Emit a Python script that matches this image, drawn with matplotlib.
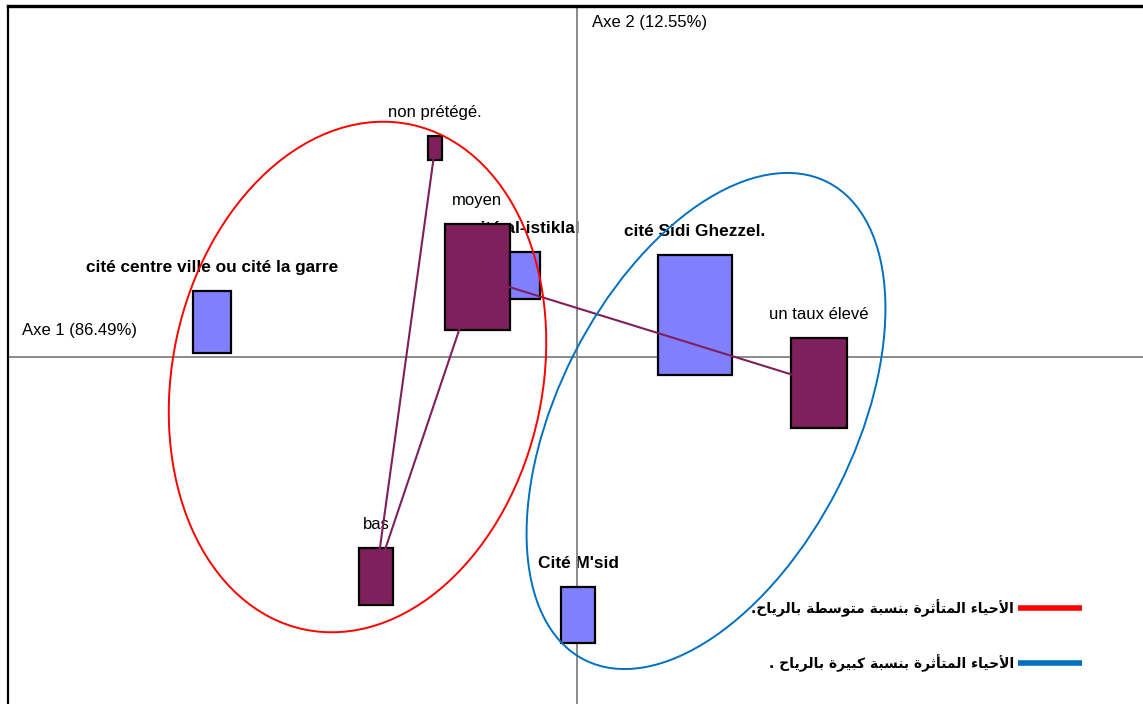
import matplotlib
matplotlib.use("Agg")
import matplotlib.pyplot as plt
from matplotlib.patches import Rectangle, Ellipse

# ---------------- data ----------------
names = ["non prétégé.", "moyen", "cité al-istiklal",
         "cité centre ville ou cité la garre", "cité Sidi Ghezzel.",
         "un taux élevé", "bas", "Cité M'sid"]
axis1 = [-1.42, -1.00, -0.52, -3.65, 1.18, 2.42, -2.01, 0.01]
axis2 = [2.09, 0.80, 0.815, 0.35, 0.42, -0.26, -2.195, -2.58]
box_w = [0.14, 0.65, 0.30, 0.38, 0.74, 0.56, 0.34, 0.34]
box_h = [0.23, 1.05, 0.47, 0.62, 1.20, 0.90, 0.57, 0.56]
kind = [0, 0, 1, 1, 1, 0, 0, 1]   # 0 = modality (purple), 1 = district (blue)

links = [(0, 6), (1, 6), (1, 5)]

axis1_label = "Axe 1 (86.49%)"
axis2_label = "Axe 2 (12.55%)"

# groups (ellipses): centre x, centre y, width, height, angle
grp_cx = [-2.195, 1.29]
grp_cy = [-0.20, -0.64]
grp_w = [3.70, 2.96]
grp_h = [5.16, 5.36]
grp_ang = [-12, -27]
grp_col = ["#ff0000", "#0070c0"]
grp_text = ["الأحياء المتأثرة بنسبة متوسطة بالرياح.",
            "الأحياء المتأثرة بنسبة كبيرة بالرياح ."]

# ---------------- simple Arabic shaping ----------------
AR_FORMS = {
    '\u0621': ('\uFE80', None, None, None),
    '\u0623': ('\uFE83', '\uFE84', None, None),
    '\u0627': ('\uFE8D', '\uFE8E', None, None),
    '\u0628': ('\uFE8F', '\uFE90', '\uFE91', '\uFE92'),
    '\u0629': ('\uFE93', '\uFE94', None, None),
    '\u062A': ('\uFE95', '\uFE96', '\uFE97', '\uFE98'),
    '\u062B': ('\uFE99', '\uFE9A', '\uFE9B', '\uFE9C'),
    '\u062D': ('\uFEA1', '\uFEA2', '\uFEA3', '\uFEA4'),
    '\u0631': ('\uFEAD', '\uFEAE', None, None),
    '\u0633': ('\uFEB1', '\uFEB2', '\uFEB3', '\uFEB4'),
    '\u0637': ('\uFEC1', '\uFEC2', '\uFEC3', '\uFEC4'),
    '\u0643': ('\uFED9', '\uFEDA', '\uFEDB', '\uFEDC'),
    '\u0644': ('\uFEDD', '\uFEDE', '\uFEDF', '\uFEE0'),
    '\u0645': ('\uFEE1', '\uFEE2', '\uFEE3', '\uFEE4'),
    '\u0646': ('\uFEE5', '\uFEE6', '\uFEE7', '\uFEE8'),
    '\u0648': ('\uFEED', '\uFEEE', None, None),
    '\u064A': ('\uFEF1', '\uFEF2', '\uFEF3', '\uFEF4'),
}
LAM_ALEF = {'\u0627': ('\uFEFB', '\uFEFC'), '\u0623': ('\uFEF7', '\uFEF8')}


def shape_ar(s):
    out = []
    i, n = 0, len(s)
    prev_fwd = False
    while i < n:
        c = s[i]
        if c == '\u0644' and i + 1 < n and s[i + 1] in LAM_ALEF:
            iso, fin = LAM_ALEF[s[i + 1]]
            out.append(fin if prev_fwd else iso)
            prev_fwd = False
            i += 2
            continue
        if c in AR_FORMS:
            iso, fin, ini, med = AR_FORMS[c]
            nxt = s[i + 1] if i + 1 < n else ''
            next_joins = nxt in AR_FORMS and nxt != '\u0621'
            can_fwd = ini is not None and next_joins
            back = prev_fwd and fin is not None
            if back and can_fwd:
                f = med
            elif back:
                f = fin
            elif can_fwd:
                f = ini
            else:
                f = iso
            out.append(f)
            prev_fwd = can_fwd
        else:
            out.append(c)
            prev_fwd = False
        i += 1
    return ''.join(reversed(out))


# ---------------- figure ----------------
W, H = 1143, 704
fig = plt.figure(figsize=(W / 100, H / 100), dpi=100)
ax = fig.add_axes([8 / W, 0, (W - 8) / W, (H - 6) / H])
ax.set_xlim(-5.69, 5.66)
ax.set_ylim(-3.47, 3.51)
ax.set_xticks([])
ax.set_yticks([])
for s in ["right", "bottom"]:
    ax.spines[s].set_visible(False)
ax.spines["top"].set_linewidth(2.4)
ax.spines["left"].set_linewidth(1.6)

font = ["Liberation Sans", "DejaVu Sans"]
purple = "#7f1f5c"
blue = "#8080ff"

ax.axhline(0, color="#8a8a8a", lw=1.4, zorder=2)
ax.axvline(0, color="#8a8a8a", lw=1.4, zorder=2)

ax.text(0.15, 3.35, axis2_label, family=font, fontsize=12, ha="left",
        va="center", zorder=1)
ax.text(-5.55, 0.27, axis1_label, family=font, fontsize=12, ha="left",
        va="center", zorder=1)

for nm, x, y, w, h, k in zip(names, axis1, axis2, box_w, box_h, kind):
    ax.add_patch(Rectangle((x - w / 2, y - h / 2), w, h,
                           facecolor=blue if k else purple,
                           edgecolor="black", lw=1.6, zorder=3))
    ax.text(x, y + h / 2 + 0.235, nm, family=font,
            fontsize=12.4 if k else 12,
            fontweight="bold" if k else "normal",
            ha="center", va="center", zorder=1)

for a, b in links:
    ax.plot([axis1[a], axis1[b]], [axis2[a], axis2[b]], color=purple,
            lw=1.5, zorder=4)

for cx, cy, w, h, ang, col in zip(grp_cx, grp_cy, grp_w, grp_h, grp_ang, grp_col):
    ax.add_patch(Ellipse((cx, cy), w, h, angle=ang, fill=False,
                         edgecolor=col, lw=1.4, zorder=5))

leg_y = [-2.51, -3.06]
for ly, col, txt in zip(leg_y, grp_col, grp_text):
    ax.plot([4.41, 5.05], [ly, ly], color=col, lw=4, solid_capstyle="butt",
            zorder=6)
    ax.text(4.37, ly, shape_ar(txt), family=["DejaVu Sans"], fontsize=10,
            fontweight="bold", ha="right", va="center", zorder=6)

fig.savefig("out.png", dpi=100)
